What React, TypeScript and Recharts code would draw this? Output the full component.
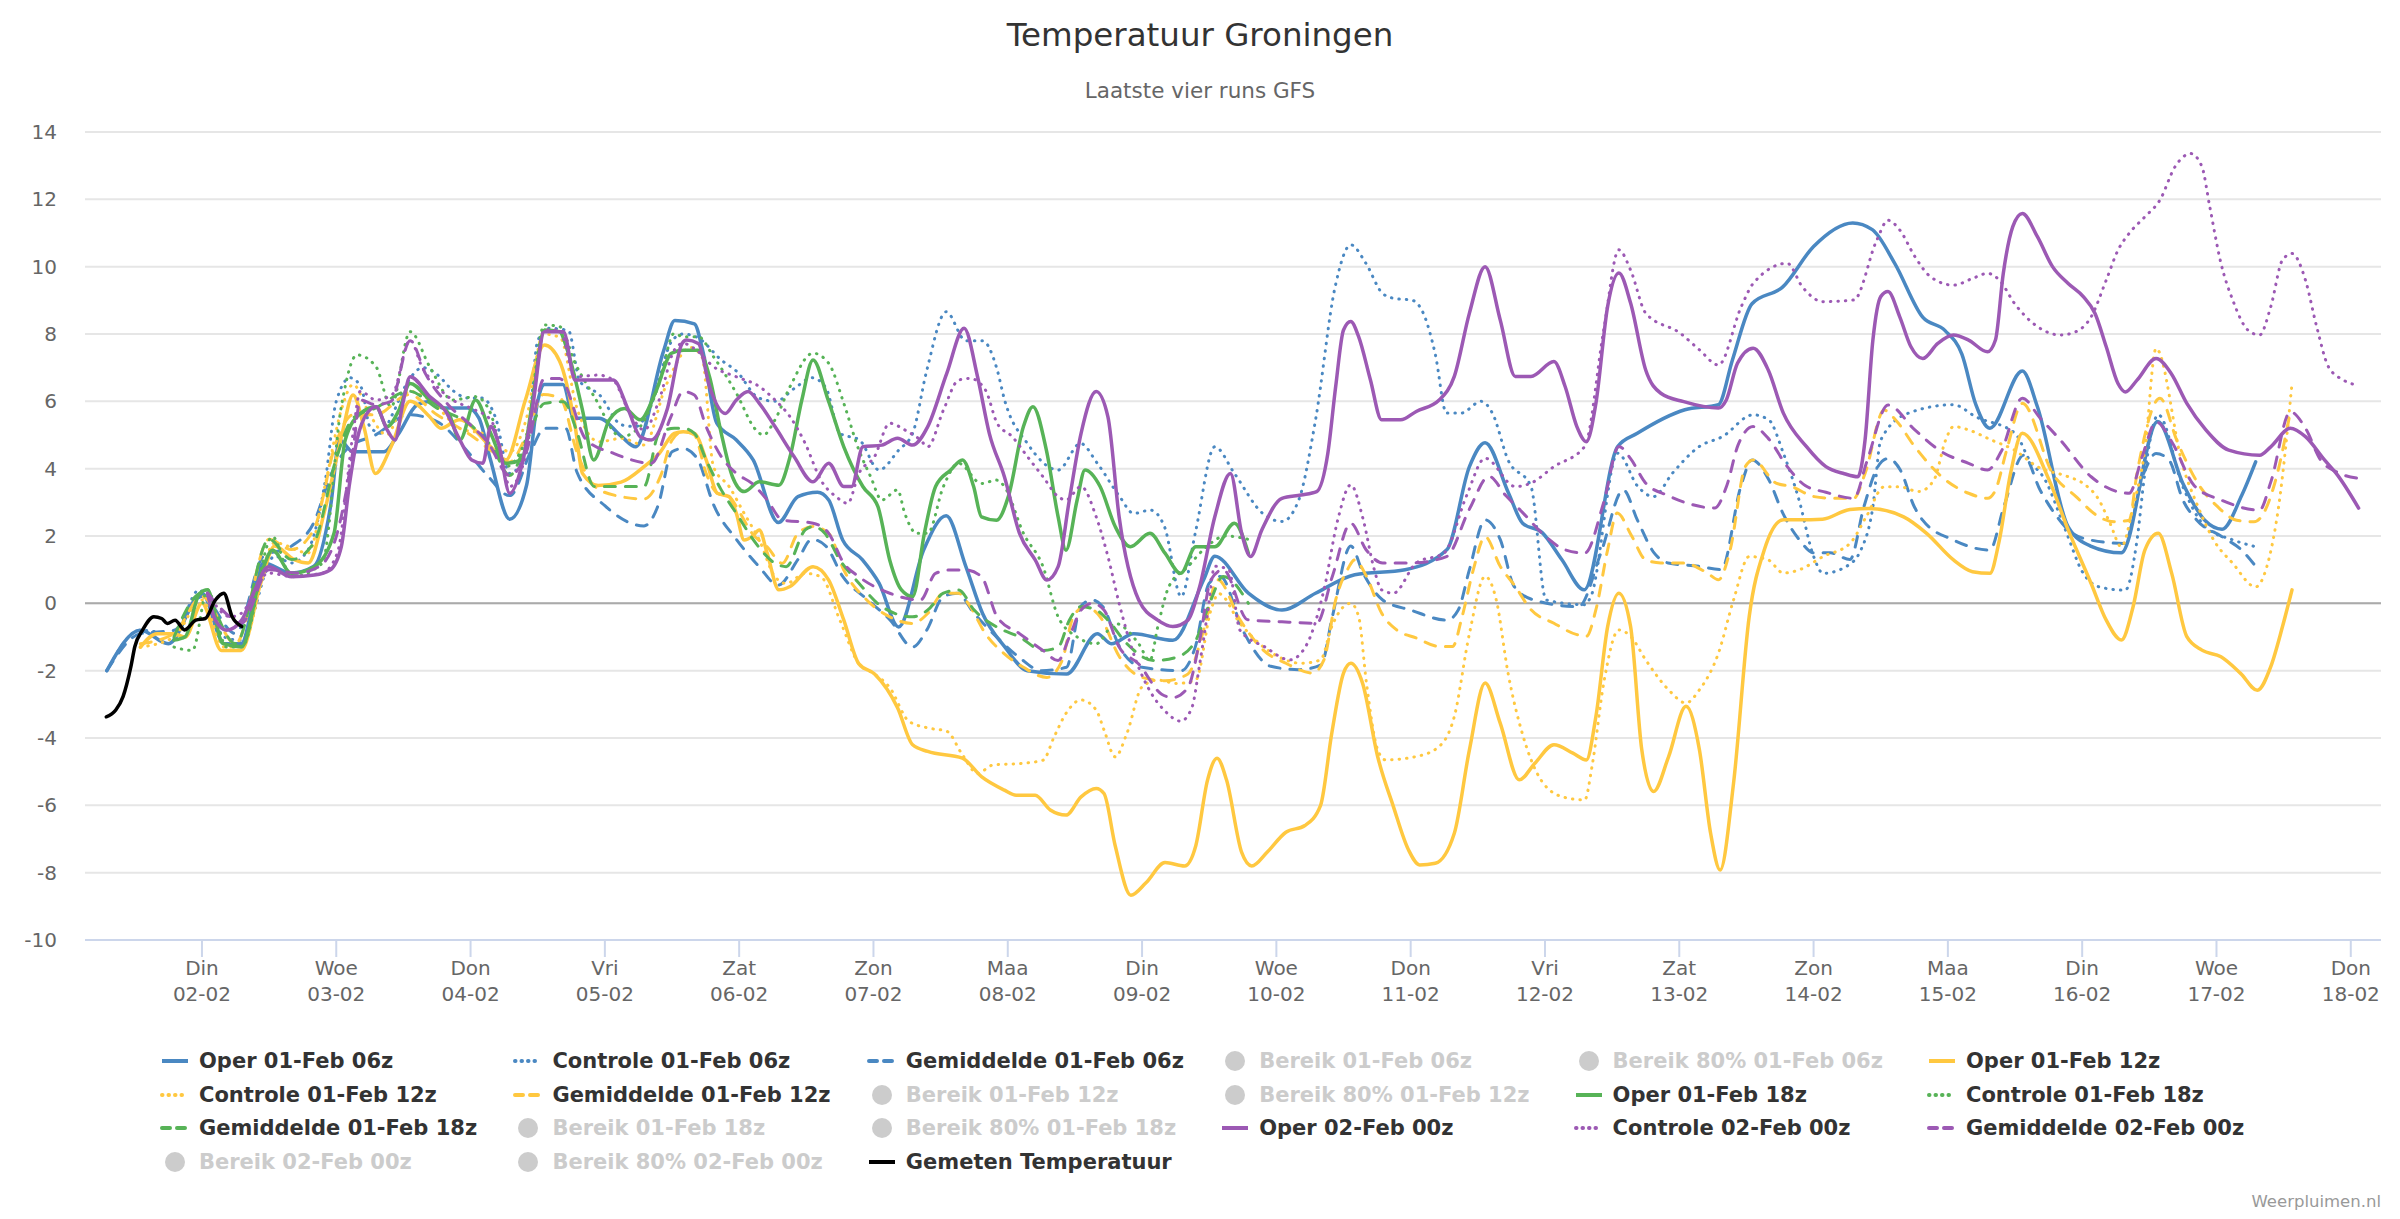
import { LineChart, Line, XAxis, YAxis, CartesianGrid, ReferenceLine } from "recharts"

type Pt = [number, number]

// hours since 01-02 00:00 (local), temperature in °C

const OPER_06: Pt[] = [[7,-2.0],[13,-0.8],[18,-1.2],[24,0.3],[28,-1.2],[31,-1.2],[35,1.2],[40,0.9],[44,1.1],[47,2.9],[48.6,4.85],[51,4.5],[56.5,4.5],[59,5.0],[62.5,5.9],[65,6.0],[67,5.8],[71.5,5.8],[73.5,5.5],[75.5,4.3],[79,2.5],[82,3.5],[84,6.0],[85.2,6.5],[88.5,6.5],[90.5,5.5],[95,5.5],[99,4.95],[101.5,4.65],[106.5,7.5],[108.5,8.4],[112,8.3],[113.5,7.5],[116,5.35],[119.5,4.85],[122.5,4.26],[127,2.4],[130.5,3.17],[134,3.3],[136,3.07],[138.5,1.88],[142,1.3],[145,0.6],[148.5,-0.7],[153,1.6],[157,2.6],[160.5,1.1],[163.5,-0.3],[167.5,-1.3],[171.5,-2.0],[178.5,-2.1],[184,-0.9],[186.5,-1.2],[190.5,-0.9],[197.5,-1.1],[203,0.7],[205,1.4],[211,0.3],[217,-0.2],[223,0.3],[230,0.85],[239,1.0],[246.5,1.6],[250.5,4.06],[253.3,4.77],[257.5,3.27],[260,2.38],[263.5,2.1],[267,1.3],[271,0.4],[277,4.66],[280.5,5.05],[289,5.75],[295,5.9],[297.5,7.23],[301,8.9],[306.5,9.4],[312,10.6],[319,11.3],[322.5,11.1],[326.5,10.1],[331.5,8.5],[335.5,8.1],[338.5,7.4],[341,5.9],[343.5,5.2],[349.3,6.9],[352,5.84],[357.5,2.27],[361.5,1.7],[367,1.5],[373.5,5.4],[378,3.56],[382,2.45],[385,2.2],[388.5,3.2],[391,4.2]]

const CONTROLE_06: Pt[] = [[7,-2.0],[13,-0.8],[19,-0.9],[23.5,0.4],[28,-1.0],[31,-1.1],[37,1.4],[40,1.2],[43,1.6],[46,3.6],[48,6.0],[50.5,6.7],[52.5,6.4],[54,5.25],[56,5.05],[58,5.6],[60.5,6.5],[63.5,7.0],[66,6.8],[69,6.3],[71.5,6.1],[74,6.1],[76.5,5.5],[79,3.86],[82,4.55],[84,7.8],[86,8.17],[89.5,8.1],[91.5,6.6],[95,6.2],[99,5.3],[101.5,5.25],[104.5,6.0],[108,7.8],[110,8.0],[112.5,7.9],[117,7.2],[119.5,6.9],[123.5,6.1],[126.5,6.0],[130,6.4],[133,6.7],[135.5,6.4],[138,5.05],[141.5,4.85],[145,3.96],[148.5,4.55],[151,5.05],[153.5,6.9],[157,8.66],[160.5,7.8],[163.5,7.8],[166,7.0],[167.5,6.0],[171.5,4.75],[177,3.96],[181,4.75],[184,4.16],[188,3.17],[190.5,2.67],[193.5,2.77],[196,2.28],[199,0.2],[201.5,2.08],[205,4.65],[208.5,3.86],[213.5,2.68],[217,2.43],[220,3.07],[223,5.45],[226.5,9.4],[229.3,10.65],[232,10.1],[235,9.2],[237,9.06],[240.3,9.0],[242.3,8.6],[244.4,7.4],[246.4,5.65],[249,5.65],[252.6,6.0],[254.6,5.65],[257.4,4.26],[261.5,3.47],[264.2,0.1],[271,-0.04],[272.2,0.2],[277,4.46],[280.6,3.47],[283.4,3.17],[286.8,3.87],[291.6,4.66],[295.7,4.95],[301.2,5.6],[304,5.45],[306.6,4.46],[309.4,3.07],[312,1.4],[313.7,0.89],[317.8,1.09],[320.5,1.6],[322.6,2.87],[324,4.85],[328.8,5.64],[337,5.9],[341,5.54],[348,5.05],[350.6,4.25],[353.4,3.66],[356.8,2.27],[360.2,0.89],[363,0.49],[367.7,0.39],[369.8,1.88],[371.2,3.86],[373.6,5.6],[378,3.46],[382,2.27],[387,1.88],[391,1.68]]

const GEMIDDELDE_06: Pt[] = [[7,-2.0],[13,-0.9],[19,-0.8],[24,0.2],[30,-0.9],[35,1.4],[40,1.7],[44,2.4],[47,3.8],[50,4.6],[55,5.0],[61,5.6],[66,5.4],[71,4.6],[75,3.8],[79,3.2],[83,4.6],[85.2,5.2],[89,5.2],[91,3.9],[96,2.9],[103,2.3],[105.5,2.9],[108,4.5],[110,4.6],[112.5,4.3],[115.5,2.9],[119.5,1.9],[123.5,1.1],[127,0.54],[130.5,1.3],[133,1.9],[135.5,1.7],[138.5,0.8],[143,0.1],[147,-0.5],[151,-1.3],[153.5,-0.8],[156.5,0.2],[159,0.3],[162,-0.3],[166,-1.0],[170,-1.6],[174,-2.0],[178.5,-1.9],[181,-0.1],[183,0.1],[185,-0.1],[188,-1.3],[192,-1.9],[199,-2.0],[201.5,-1.3],[204,0.6],[206,0.8],[210,-0.8],[215,-1.87],[220,-1.97],[224,-1.83],[226,-0.4],[229.3,1.7],[231.5,0.9],[235,0.1],[240,-0.2],[246.5,-0.5],[248.5,-0.2],[250.5,1.0],[253.3,2.48],[256,1.9],[258.5,0.5],[262,0.1],[270,-0.1],[274,1.5],[278,3.37],[280.5,2.48],[283.5,1.5],[286,1.2],[291.5,1.1],[295.5,1.0],[299,3.47],[301,4.26],[304,3.67],[306.5,2.68],[309.5,1.88],[312,1.5],[315,1.5],[318.5,1.3],[321,2.87],[323.5,4.06],[325.3,4.3],[327.5,3.96],[330,2.87],[331.5,2.47],[337,1.88],[343.5,1.58],[346,2.87],[349.5,4.4],[352.5,3.36],[355.5,2.57],[357.5,2.18],[361.5,1.88],[367.5,1.78],[371,3.86],[373.2,4.45],[375.5,4.26],[378,3.07],[380.5,2.47],[385,1.98],[388.5,1.58],[391,1.1]]

const OPER_12: Pt[] = [[13,-1.3],[16,-0.9],[19,-0.9],[21,-1.0],[24,0.0],[27.5,-1.4],[31,-1.4],[34.5,0.6],[37,1.7],[40.5,1.3],[43,1.2],[46,2.8],[49,5.0],[51,6.19],[53,5.2],[55,3.86],[57.8,4.65],[61.2,6.0],[64.7,5.54],[66.7,5.2],[70,5.45],[75.6,4.65],[78.3,4.26],[81.8,6.04],[85.2,7.67],[87.9,7.2],[90.7,5.25],[92,3.86],[94.8,3.5],[98.9,3.6],[103,4.06],[105.7,4.45],[108.4,5.05],[110,5.1],[112,5.05],[114.1,4.26],[116.1,3.27],[118.2,3.17],[119.5,2.67],[120.9,1.88],[122.3,1.98],[123.6,2.18],[125,1.49],[127.1,0.4],[129.1,0.5],[133.2,1.09],[136,0.69],[138.7,-0.5],[141.4,-1.8],[144.2,-2.1],[148.3,-3.1],[151,-4.2],[153.7,-4.4],[159.9,-4.6],[163.3,-5.15],[167.4,-5.55],[169.5,-5.7],[172.9,-5.7],[175.6,-6.14],[178.4,-6.29],[181.1,-5.75],[183.8,-5.5],[185.2,-5.65],[187.2,-7.2],[190,-8.67],[192.7,-8.3],[196.1,-7.7],[199.6,-7.8],[201.6,-7.2],[203.7,-5.25],[205.4,-4.6],[207.1,-5.25],[209.8,-7.4],[211.6,-7.8],[214.3,-7.4],[217.7,-6.8],[221.1,-6.6],[223.9,-6.0],[225.9,-3.86],[228,-2.07],[229.3,-1.78],[231.4,-2.37],[234.1,-4.55],[236.9,-6.03],[239.6,-7.32],[241.6,-7.77],[244.4,-7.72],[247.8,-6.83],[250.5,-4.35],[253.3,-2.37],[256,-3.56],[259.4,-5.24],[262.2,-4.75],[265.6,-4.2],[269,-4.45],[271.4,-4.65],[273.1,-3.36],[275.2,-0.69],[277.2,0.3],[279.3,-0.69],[281.3,-4.35],[283.4,-5.59],[286.1,-4.55],[289.2,-3.06],[291.6,-4.35],[293.6,-6.83],[295.3,-7.92],[297.7,-5.34],[300.5,-0.39],[303.2,1.59],[306.6,2.48],[309.4,2.48],[313.6,2.5],[318.5,2.79],[321.9,2.82],[328.1,2.57],[332.2,2.08],[337,1.29],[340.4,0.94],[343.5,0.89],[345.2,1.88],[347.2,3.86],[349.3,5.05],[354.1,3.66],[357.5,2.18],[361.6,0.59],[364.3,-0.5],[367,-1.09],[369.1,-0.1],[371.2,1.58],[373.6,2.08],[376,0.89],[378.7,-0.99],[381.4,-1.39],[384.8,-1.59],[388.3,-2.08],[391.3,-2.58],[393.7,-1.88],[395.8,-0.69],[397.5,0.4]]

const CONTROLE_12: Pt[] = [[13,-1.3],[19,-1.0],[24,0.1],[28,-1.3],[31,-1.3],[37,1.8],[43,1.5],[46,3.5],[49,5.8],[51,6.5],[54,5.6],[57,5.0],[61,6.3],[65,6.0],[70,5.2],[75,5.0],[79,4.5],[82,5.5],[85,8.0],[88,7.9],[91,5.8],[95,4.8],[99,4.9],[103,4.7],[107,6.5],[111.3,7.6],[113.4,7.3],[115.4,4.06],[118.2,3.47],[120.9,2.67],[123.6,1.88],[126.4,0.79],[128.4,0.59],[131.8,0.89],[134.6,0.79],[138,-0.5],[141.4,-1.8],[144.2,-2.1],[146.9,-2.5],[150.3,-3.5],[153.7,-3.7],[157.1,-3.8],[159.9,-4.5],[162.6,-5.05],[165.4,-4.8],[170.1,-4.76],[174.3,-4.66],[176.3,-3.96],[178.4,-3.27],[181.1,-2.87],[183.8,-3.17],[185.2,-3.76],[187.2,-4.56],[189.3,-3.86],[192,-2.48],[194.8,-2.28],[198.2,-2.38],[201.6,-2.28],[204.3,-0.2],[205.7,0.29],[209.5,-0.59],[212.2,-1.08],[216.3,-1.58],[220.4,-1.78],[223.9,-1.68],[225.9,-0.69],[228,-0.1],[229.3,0.0],[230.7,-0.39],[232.1,-2.37],[234.1,-4.35],[235.5,-4.65],[241,-4.55],[245.1,-4.25],[247.8,-3.36],[250.5,-0.9],[253.3,0.8],[255.3,0.1],[257.4,-2.07],[260.1,-3.95],[262.9,-5.14],[267,-5.74],[271.1,-5.84],[272.4,-4.85],[274.5,-2.37],[277.2,-0.79],[279.3,-0.98],[282,-1.68],[286.1,-2.57],[289.2,-2.96],[291.6,-2.57],[295,-1.48],[297.7,0.1],[300.5,1.39],[303.9,1.29],[306.6,0.9],[309.5,1.0],[313.7,1.39],[318.5,1.78],[321.5,2.6],[324.6,3.46],[327.4,3.46],[330.8,3.32],[333.5,3.66],[335.6,4.85],[337,5.25],[339.7,5.15],[343.8,4.85],[347.9,4.55],[352,4.06],[357.5,3.76],[360.2,3.56],[363,3.07],[365,2.37],[367,1.68],[369.1,2.87],[371.2,4.55],[373.2,7.57],[378,4.06],[380.7,2.87],[383.5,1.88],[386.9,1.19],[391,0.49],[393,1.09],[395.1,2.87],[397.5,6.53]]

const GEMIDDELDE_12: Pt[] = [[13,-1.2],[19,-0.9],[24,0.2],[30,-1.2],[36,1.9],[40,1.6],[44,2.2],[48,4.8],[51,5.6],[55,5.6],[61,6.2],[66,5.6],[72,5.0],[76,4.5],[79,4.2],[82,5.0],[85,6.2],[88,6.1],[91,4.5],[94,3.5],[98,3.2],[103,3.1],[106,3.8],[108,4.85],[110,5.1],[112,5.0],[114.1,3.86],[116.1,3.27],[118.2,3.17],[120.2,2.67],[122.3,2.08],[125,1.68],[127.7,1.19],[130.5,2.08],[133.2,2.28],[136,2.08],[138.7,0.99],[142.8,0.1],[146.9,-0.4],[151,-0.6],[153.7,-0.3],[156.5,0.3],[159.2,0.3],[161.3,-0.1],[164,-0.9],[167.4,-1.5],[170.8,-1.9],[175,-2.2],[177.7,-1.7],[179.7,-0.4],[181.8,-0.1],[184.5,-0.4],[188,-1.6],[192,-2.2],[196.1,-2.3],[200.2,-2.1],[203,-0.8],[205.5,0.7],[209.5,-0.49],[213.6,-1.38],[217.7,-1.78],[222.5,-2.07],[224.5,-1.68],[226.6,0.1],[228.7,1.0],[230,1.29],[232.1,0.8],[234.8,-0.29],[237.5,-0.79],[241,-1.03],[245.1,-1.28],[247.5,-1.28],[249.2,-0.39],[251.2,1.0],[253.3,1.98],[256,1.1],[258.7,0.5],[261.5,-0.19],[265.6,-0.59],[269.7,-0.93],[271.4,-0.98],[273.1,-0.19],[275.2,1.59],[276.9,2.68],[279.5,2.0],[282,1.29],[284.7,1.2],[288.8,1.2],[293,0.9],[295,0.7],[297.1,1.59],[299.8,4.06],[301.2,4.26],[305.3,3.57],[308,3.47],[312.1,3.17],[315.5,3.12],[319.2,3.12],[321.2,3.86],[324.6,5.74],[326.7,5.44],[330.1,4.65],[335.6,3.66],[339.7,3.27],[343.1,3.12],[344.5,3.36],[346.5,4.55],[349.3,5.94],[354.7,3.86],[358.9,3.17],[363,2.57],[365.7,2.42],[368.4,2.47],[369.8,3.86],[373.9,6.09],[377,4.8],[380.7,3.56],[384.2,2.87],[387.6,2.47],[390.7,2.42],[392.4,2.67],[394.4,3.56],[397.2,5.69]]

const OPER_18: Pt[] = [[19,-1.09],[21,-0.99],[23.6,0.3],[25,0.4],[27.7,-1.19],[31.1,-1.29],[34.6,0.89],[36.6,1.58],[40,0.89],[44.1,1.09],[47.6,2.08],[49.6,4.85],[52.3,5.64],[55.1,5.84],[57.1,5.25],[59.2,5.74],[61.2,6.53],[64.7,6.04],[68.1,5.64],[70.1,4.85],[72.9,6.04],[75.6,5.05],[78.3,4.16],[81.1,4.26],[83.1,6.04],[85.2,8.12],[87.9,8.07],[89.3,7.52],[92,5.74],[94,4.26],[96.8,5.45],[99.5,5.79],[102.3,5.45],[105,6.24],[107.9,7.43],[110,7.52],[112.7,7.52],[114.7,6.73],[116.8,5.05],[118.8,3.76],[120.9,3.32],[123.6,3.61],[127.1,3.51],[129.1,4.36],[131.2,6.04],[133.2,7.23],[135.9,6.04],[138.7,4.65],[142.1,3.47],[144.8,2.87],[146.9,1.29],[149,0.4],[151,0.2],[153.1,2.08],[155.1,3.47],[157.8,3.96],[159.9,4.26],[161.9,3.47],[163.3,2.57],[166,2.47],[168.1,3.17],[170.8,5.25],[172.5,5.84],[174.9,4.55],[177,2.57],[178.4,1.58],[180.4,3.07],[181.8,3.96],[184.5,3.47],[187.2,2.28],[189.9,1.68],[193.4,2.08],[196.1,1.49],[198.9,0.89],[201.6,1.68],[205,1.68],[208.5,2.38],[211,1.49]]

const CONTROLE_18: Pt[] = [[19,-1.3],[22.3,-1.4],[25,0.4],[28.4,-1.3],[31.1,-1.3],[36.6,1.98],[40,0.79],[45.5,1.19],[48.9,5.84],[51.7,7.38],[55.1,7.03],[57.8,5.84],[61.2,8.07],[64.7,7.03],[68.8,6.04],[72.9,6.14],[75.6,5.64],[78.3,4.06],[81.8,4.85],[85.2,8.27],[87.9,8.22],[90.7,7.13],[94.1,6.14],[98.9,4.95],[102.3,5.25],[105.7,6.53],[108.4,8.02],[110,7.92],[112.7,7.92],[115.4,7.33],[119.5,6.24],[123,5.15],[124.3,5.0],[126.4,5.45],[129.1,6.44],[133.2,7.43],[136,7.13],[138.7,5.94],[141.4,4.55],[143.5,3.76],[145.5,3.07],[148.3,3.37],[149.6,2.67],[151.7,2.08],[153.7,2.08],[156.5,3.47],[159.2,4.16],[163.3,3.56],[166,3.66],[167.4,3.47],[170.8,2.08],[174.3,1.09],[177,-0.4],[180.4,-1.0],[183.8,-1.2],[187.2,-0.6],[191.4,-1.2],[193.4,-1.7],[194.8,-0.7],[196.8,0.5],[200.2,1.09],[203,1.6],[207,2.0],[211,1.9]]

const GEMIDDELDE_18: Pt[] = [[19,-1.0],[24,0.3],[30,-1.2],[36,1.9],[40,1.3],[44,1.8],[48,4.3],[51,5.5],[55,5.8],[61,6.3],[66,5.8],[72,5.3],[76,4.6],[79,3.8],[82,4.8],[85.2,5.94],[88.6,5.99],[91,5.1],[94.1,3.47],[98.9,3.47],[103,3.47],[105.7,5.05],[108.4,5.2],[110,5.2],[112,5.05],[114.1,4.26],[116.8,3.37],[119.5,2.67],[123,1.78],[126.4,1.19],[128.4,1.09],[131.8,2.18],[133.2,2.28],[135.3,2.08],[138,1.29],[141.4,0.6],[145.5,-0.1],[151,-0.4],[153.7,-0.2],[156.5,0.3],[159.2,0.4],[162,-0.2],[166,-0.7],[170.1,-1.0],[174.3,-1.4],[177,-1.3],[179,-0.5],[181.1,-0.1],[183.8,-0.2],[185.9,-0.5],[189.3,-1.2],[194.1,-1.7],[198.2,-1.6],[201.6,-1.1],[204.3,0.1],[206.5,0.8],[211,0.0]]

const OPER_00: Pt[] = [[25,0.3],[26.4,-0.5],[28.4,-0.8],[31.1,-0.5],[33.2,0.3],[35.9,1.09],[40,0.79],[44.1,0.84],[46.9,0.99],[48.9,1.68],[50.3,3.47],[51.7,4.85],[53.7,5.69],[55.1,5.84],[57.1,5.15],[58.5,4.85],[59.9,5.94],[61.2,6.73],[64.7,6.14],[67.4,5.74],[70.1,4.85],[72.2,4.26],[74.2,4.16],[75.6,5.25],[77,4.75],[79,3.27],[81.1,4.06],[83.1,5.84],[85.2,8.07],[88.6,8.07],[90.7,6.63],[97.5,6.63],[100.2,5.74],[102.3,4.95],[104.3,4.85],[107.1,5.74],[109.8,7.72],[110.6,7.82],[112.7,7.72],[114.7,6.44],[117.5,5.64],[119.5,6.04],[121.6,6.29],[123.6,5.94],[126.4,5.25],[129.8,4.36],[133.2,3.61],[136,4.16],[138.7,3.47],[140.1,3.47],[142.1,4.65],[145.5,4.7],[148.3,4.9],[151,4.7],[153.7,5.25],[157.1,6.83],[160.2,8.17],[162.6,6.73],[164.7,5.05],[167.4,3.76],[170.1,2.08],[172.9,1.29],[175,0.69],[177,1.09],[179,3.07],[181.1,5.05],[183.8,6.29],[185.9,5.54],[187.9,2.57],[191.4,0.1],[194.8,-0.5],[197.5,-0.69],[200.2,-0.5],[202.3,0.5],[205,2.57],[207.8,3.86],[209.8,2.08],[211.4,1.39],[213.4,2.18],[217,3.12],[220.4,3.22],[223.2,3.32],[225.2,4.46],[226.6,6.44],[228,8.12],[229.3,8.37],[230.7,7.92],[232.8,6.64],[234.8,5.45],[238.2,5.45],[241,5.7],[245.1,6.04],[247.8,6.74],[250.5,8.62],[253.3,10.0],[256,8.42],[258.7,6.74],[261.5,6.74],[265.6,7.18],[267.6,6.44],[269.7,5.25],[271.4,4.8],[273.1,5.94],[275.2,8.82],[277.2,9.81],[279.3,8.92],[282,6.93],[284.7,6.24],[288.8,5.99],[295,5.8],[296.4,6.04],[298.4,7.13],[301.2,7.58],[303.9,6.93],[306.6,5.65],[310.7,4.66],[314.2,4.06],[317.5,3.85],[319.9,3.76],[321.2,4.85],[322.6,7.82],[324,9.11],[325.3,9.26],[327.4,8.51],[329.4,7.62],[331.5,7.27],[334.2,7.72],[337,7.97],[339.7,7.82],[343.1,7.47],[344.5,7.82],[345.9,9.8],[347.6,11.19],[349.3,11.58],[352,10.89],[354.7,10.0],[357.5,9.5],[360.2,9.11],[362.3,8.61],[364.3,7.62],[366.4,6.53],[367.7,6.28],[369.8,6.63],[373.2,7.27],[375.9,6.83],[378.7,5.94],[382.1,5.15],[386.2,4.55],[391.7,4.4],[393.7,4.65],[397.2,5.2],[399.9,4.95],[403.3,4.26],[405.4,3.86],[409.4,2.83]]

const CONTROLE_00: Pt[] = [[25,0.3],[29.1,-0.4],[31,-0.3],[35.9,0.9],[40,0.8],[45.5,0.9],[48.2,1.5],[51,5.05],[52.3,6.3],[55.1,6.04],[58,6.2],[61.2,7.82],[63.3,7.03],[66,6.44],[68.8,6.04],[72,5.8],[75.6,5.45],[77,4.85],[79,3.47],[81.8,4.36],[85.2,8.12],[87.9,8.12],[90.7,6.73],[94.8,6.78],[97.5,6.63],[100.2,5.74],[103,5.15],[105.7,6.04],[108.4,7.52],[110,7.72],[112.5,7.5],[115.4,7.03],[119.5,6.73],[123.6,6.44],[126.4,6.04],[129.1,5.54],[131.8,4.75],[134.6,3.66],[137.3,3.17],[139.4,2.97],[141.4,3.86],[144.2,4.36],[146.9,5.35],[149.6,5.15],[152.4,4.85],[153.7,4.65],[156.5,5.74],[159.2,6.63],[161.3,6.68],[164,6.34],[166.1,5.35],[168.8,4.95],[171.5,4.36],[174.3,3.76],[177,3.17],[178.4,3.07],[181.1,3.47],[183.8,2.57],[185.9,1.39],[187.9,0.0],[190.7,-1.6],[193.4,-2.6],[196.1,-3.2],[198.9,-3.5],[200.9,-3.1],[202.3,-1.8],[203.7,-0.3],[205,1.1],[207.5,1.0],[209.5,-0.8],[214,-1.3],[218.4,-1.68],[221.5,-1.2],[224.5,0.4],[227,2.5],[229.3,3.52],[231.5,2.5],[233.5,1.0],[234.8,0.4],[236.9,0.3],[241,1.2],[246,1.5],[250,3.2],[253.3,4.31],[258.7,3.47],[261.5,3.57],[265.6,4.06],[271.1,4.66],[274.5,8.12],[277.2,10.5],[279.3,9.9],[282,8.62],[288.2,8.02],[291.6,7.53],[295,7.08],[299.1,8.82],[301.2,9.5],[307.3,10.1],[310,9.4],[313.7,8.96],[319.2,9.01],[323.3,10.79],[325.3,11.38],[327.4,11.09],[330.1,10.3],[332.9,9.7],[337,9.45],[340.4,9.65],[343.1,9.8],[345.2,9.6],[347.9,8.91],[352,8.22],[356.1,7.97],[358.9,8.07],[361.6,8.51],[364.3,9.6],[366.4,10.49],[368.4,10.99],[371.2,11.48],[373.9,11.98],[376.6,12.97],[379.4,13.36],[381.4,12.97],[382.8,11.78],[384.8,10.1],[386.9,9.01],[389.6,8.12],[391.7,7.97],[393.7,8.81],[395.8,10.2],[397.5,10.39],[399.9,9.6],[401.9,8.22],[404,7.03],[406.7,6.63],[409.1,6.48]]

const GEMIDDELDE_00: Pt[] = [[25,0.3],[29,-0.4],[31,-0.6],[36,1.0],[41,0.9],[45,1.1],[48.2,2.1],[51,4.55],[52.3,6.04],[55,5.9],[57.8,6.0],[61.2,7.8],[64,6.8],[68,5.9],[72,5.3],[75,4.8],[79,3.8],[82,4.5],[85.2,6.68],[87.9,6.68],[92.7,4.85],[97.5,4.46],[104.3,4.16],[107.8,5.54],[110,6.29],[112,6.19],[114.1,5.25],[116.8,4.36],[119.5,3.86],[122.3,3.56],[125,3.07],[127.7,2.48],[133.2,2.38],[136,2.08],[138.7,1.19],[141.4,0.79],[146.9,0.3],[152.4,0.1],[155.1,0.89],[157.8,0.99],[160.6,0.99],[163.3,0.79],[166.1,-0.4],[170.1,-0.9],[174.3,-1.4],[177,-1.7],[179,-1.0],[181.1,-0.2],[183.1,0.0],[185.2,-0.2],[187.9,-1.3],[191.4,-1.8],[195.5,-2.7],[197.5,-2.8],[200.2,-2.5],[202.3,-1.1],[204.3,0.7],[206.5,1.0],[210.9,-0.49],[217,-0.55],[223.2,-0.59],[226,0.8],[229.3,2.38],[232,1.6],[235,1.2],[240.3,1.2],[246.4,1.39],[250.5,2.8],[254,3.77],[257,3.2],[260.1,2.68],[264,2.0],[267.6,1.59],[271.1,1.49],[274.5,3.0],[277.2,4.66],[279.3,4.3],[282,3.57],[286,3.2],[289.5,2.97],[294.3,2.83],[296.5,3.5],[298.5,4.7],[301.2,5.25],[303.9,4.9],[307.3,4.06],[310.5,3.5],[314.2,3.3],[319.2,3.12],[321.5,4.2],[325.3,5.89],[330.1,5.15],[334.9,4.5],[339.7,4.16],[343.1,3.96],[345.5,4.5],[349.3,6.09],[352.5,5.5],[356.1,4.85],[361.6,3.76],[368.4,3.27],[370.8,4.4],[373.2,5.39],[376,4.8],[380,3.5],[384.8,3.07],[391.7,2.77],[393.7,3.6],[397.2,5.69],[399.9,5.2],[402.6,4.26],[405.5,3.9],[409.4,3.71]]

const GEMETEN: Pt[] = [[6.9,-3.37],[8.6,-3.17],[9.9,-2.77],[11.3,-1.88],[12,-1.29],[13.4,-0.79],[15.4,-0.4],[16.8,-0.45],[17.8,-0.6],[19.2,-0.5],[20.9,-0.79],[22.9,-0.5],[24.6,-0.45],[26.4,0.1],[27.9,0.3],[29.4,-0.4],[31.1,-0.69]]

const DAY_TICKS = [24, 48, 72, 96, 120, 144, 168, 192, 216, 240, 264, 288, 312, 336, 360, 384, 408]
const DAY_NAMES = ["Din", "Woe", "Don", "Vri", "Zat", "Zon", "Maa", "Din", "Woe", "Don", "Vri", "Zat", "Zon", "Maa", "Din", "Woe", "Don"]
const DAY_DATES = ["02-02", "03-02", "04-02", "05-02", "06-02", "07-02", "08-02", "09-02", "10-02", "11-02", "12-02", "13-02", "14-02", "15-02", "16-02", "17-02", "18-02"]
const Y_TICKS = [-10, -8, -6, -4, -2, 0, 2, 4, 6, 8, 10, 12, 14]

const BLUE = "#4a88c2"
const YELLOW = "#ffc840"
const GREEN = "#57b357"
const PURPLE = "#9c59b4"
const BLACK = "#000000"

type Style = "solid" | "dot" | "dash"

const SERIES: { name: string; data: Pt[]; color: string; style: Style }[] = [
  { name: "Oper 01-Feb 06z", data: OPER_06, color: BLUE, style: "solid" },
  { name: "Controle 01-Feb 06z", data: CONTROLE_06, color: BLUE, style: "dot" },
  { name: "Gemiddelde 01-Feb 06z", data: GEMIDDELDE_06, color: BLUE, style: "dash" },
  { name: "Oper 01-Feb 12z", data: OPER_12, color: YELLOW, style: "solid" },
  { name: "Controle 01-Feb 12z", data: CONTROLE_12, color: YELLOW, style: "dot" },
  { name: "Gemiddelde 01-Feb 12z", data: GEMIDDELDE_12, color: YELLOW, style: "dash" },
  { name: "Oper 01-Feb 18z", data: OPER_18, color: GREEN, style: "solid" },
  { name: "Controle 01-Feb 18z", data: CONTROLE_18, color: GREEN, style: "dot" },
  { name: "Gemiddelde 01-Feb 18z", data: GEMIDDELDE_18, color: GREEN, style: "dash" },
  { name: "Oper 02-Feb 00z", data: OPER_00, color: PURPLE, style: "solid" },
  { name: "Controle 02-Feb 00z", data: CONTROLE_00, color: PURPLE, style: "dot" },
  { name: "Gemiddelde 02-Feb 00z", data: GEMIDDELDE_00, color: PURPLE, style: "dash" },
  { name: "Gemeten Temperatuur", data: GEMETEN, color: BLACK, style: "solid" },
]

// legend order as in the original (Bereik series are switched off)
const LEGEND_NAMES = [
  "Oper 01-Feb 06z", "Controle 01-Feb 06z", "Gemiddelde 01-Feb 06z", "Bereik 01-Feb 06z", "Bereik 80% 01-Feb 06z", "Oper 01-Feb 12z",
  "Controle 01-Feb 12z", "Gemiddelde 01-Feb 12z", "Bereik 01-Feb 12z", "Bereik 80% 01-Feb 12z", "Oper 01-Feb 18z", "Controle 01-Feb 18z",
  "Gemiddelde 01-Feb 18z", "Bereik 01-Feb 18z", "Bereik 80% 01-Feb 18z", "Oper 02-Feb 00z", "Controle 02-Feb 00z", "Gemiddelde 02-Feb 00z",
  "Bereik 02-Feb 00z", "Bereik 80% 02-Feb 00z", "Gemeten Temperatuur",
]

const FONT = "'DejaVu Sans', Verdana, sans-serif"

const dashFor = (s: Style) => (s === "dot" ? "0.5 7" : s === "dash" ? "11 10" : undefined)

const toRows = (pts: Pt[]) => pts.map(([t, v]) => ({ t, v }))

function DayTick(props: any) {
  const { x, y, payload } = props
  const i = DAY_TICKS.indexOf(payload.value)
  return (
    <g>
      <text x={x} y={y + 18} textAnchor="middle" fontSize={20} fill="#666" fontFamily={FONT}>{DAY_NAMES[i]}</text>
      <text x={x} y={y + 44} textAnchor="middle" fontSize={20} fill="#666" fontFamily={FONT}>{DAY_DATES[i]}</text>
    </g>
  )
}

function TempTick(props: any) {
  const { y, payload } = props
  return (
    <text x={57} y={y + 7} textAnchor="end" fontSize={20} fill="#666" fontFamily={FONT}>{payload.value}</text>
  )
}

function LegendSymbol({ name }: { name: string }) {
  const s = SERIES.find(x => x.name === name)
  if (!s) {
    return (
      <svg width={30} height={24} style={{ display: "block" }}>
        <circle cx={15} cy={12} r={10} fill="#cccccc" />
      </svg>
    )
  }
  return (
    <svg width={30} height={24} style={{ display: "block" }}>
      <line x1={2} y1={12} x2={28} y2={12} stroke={s.color} strokeWidth={4}
        strokeDasharray={s.style === "dot" ? "0.5 6" : s.style === "dash" ? "8 7" : undefined}
        strokeLinecap={s.style === "solid" ? "butt" : "round"} />
    </svg>
  )
}

export default function App() {
  return (
    <div style={{ position: "absolute", left: 0, top: 0, width: 2400, height: 1219, background: "#fff", fontFamily: FONT, overflow: "hidden" }}>
      <div style={{ position: "absolute", left: 0, width: 2400, top: 19, lineHeight: 1, textAlign: "center", fontSize: 32.5, color: "#333" }}>
        Temperatuur Groningen
      </div>
      <div style={{ position: "absolute", left: 0, width: 2400, top: 80, lineHeight: 1, textAlign: "center", fontSize: 21.5, color: "#666" }}>
        Laatste vier runs GFS
      </div>

      <div style={{ position: "absolute", left: 0, top: 0 }}>
        <LineChart width={2400} height={1010} margin={{ top: 132, right: 19, left: 0, bottom: 0 }}>
          <CartesianGrid vertical={false} stroke="#e6e6e6" strokeWidth={2} />
          <XAxis
            dataKey="t"
            type="number"
            domain={[3.1, 413.4]}
            ticks={DAY_TICKS}
            allowDataOverflow
            height={70}
            tick={<DayTick />}
            tickSize={17}
            tickMargin={0}
            axisLine={{ stroke: "#ccd6eb", strokeWidth: 2 }}
            tickLine={{ stroke: "#ccd6eb", strokeWidth: 2 }}
          />
          <YAxis
            type="number"
            domain={[-10, 14]}
            ticks={Y_TICKS}
            width={85}
            axisLine={false}
            tickLine={false}
            tick={<TempTick />}
          />
          <ReferenceLine y={0} stroke="#aaaaaa" strokeWidth={2} />
          {SERIES.map(s => (
            <Line
              key={s.name}
              name={s.name}
              data={toRows(s.data)}
              dataKey="v"
              type="monotone"
              stroke={s.color}
              strokeWidth={s.style === "solid" ? 3.5 : 3}
              strokeDasharray={dashFor(s.style)}
              strokeLinecap="round"
              strokeLinejoin="round"
              dot={false}
              activeDot={false}
              isAnimationActive={false}
            />
          ))}
        </LineChart>
      </div>

      {LEGEND_NAMES.map((name, i) => {
        const col = i % 6
        const row = Math.floor(i / 6)
        const off = !SERIES.some(s => s.name === name)
        return (
          <div key={name} style={{
            position: "absolute", left: 160 + col * 353.4, top: 1062 + row * 33.6 - 16, height: 30,
            display: "flex", alignItems: "center", gap: 9, whiteSpace: "nowrap",
            fontSize: 21, fontWeight: 700, color: off ? "#cccccc" : "#333333",
          }}>
            <LegendSymbol name={name} />
            <span>{name}</span>
          </div>
        )
      })}

      <div style={{ position: "absolute", right: 19, top: 1194, lineHeight: 1, fontSize: 16.5, color: "#999" }}>Weerpluimen.nl</div>
    </div>
  )
}
